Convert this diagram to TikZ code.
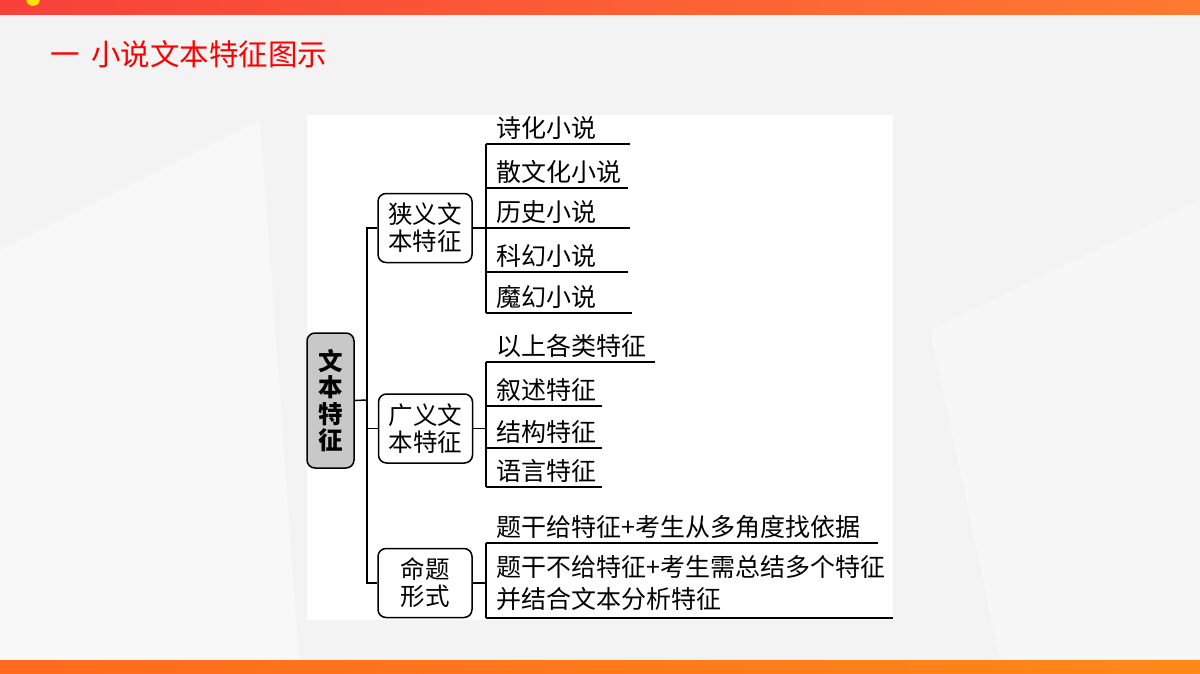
\documentclass[tikz,border=0pt]{standalone}
\usepackage{fontspec}
\setmainfont{Noto Sans CJK SC}
\usetikzlibrary{positioning}
\definecolor{slidebg}{HTML}{F3F3F3}
\definecolor{barred}{HTML}{F8403A}
\definecolor{barorange}{HTML}{FF7A30}
\definecolor{footorange}{HTML}{FF6A1E}
\definecolor{titlered}{HTML}{FF0000}
\definecolor{rootgray}{HTML}{C8C8C8}
\tikzset{
branch/.style={
  draw, rounded corners=8pt, line width=1.5pt, fill=white,
  minimum width=94pt, minimum height=69pt, inner sep=0pt,
  align=center, font=\fontsize{24.5}{27}\selectfont
},
rootbox/.style={branch, fill=rootgray, minimum width=47pt, minimum height=135pt,
  font=\bfseries\fontsize{24.5}{26.5}\selectfont},
leaf/.style={
  anchor=south west, inner xsep=10pt, inner ysep=4pt,
  text height=0.8em, text depth=0.2em, text width=#1,
  align=left, font=\fontsize{25}{32}\selectfont
},
link/.style={line width=1.5pt},
}

\begin{document}
\begin{tikzpicture}[x=1pt,y=-1pt]
  \useasboundingbox (0,0) rectangle (1200,673);
  % slide background and bars
  \fill[slidebg] (0,0) rectangle (1200,673);
  \fill[white,opacity=0.45] (0,250) -- (260,120) -- (300,673) -- (0,673) -- cycle;
  \fill[white,opacity=0.35] (1200,200) -- (930,330) -- (1000,660) -- (1200,660) -- cycle;
  \shade[left color=barred, right color=barorange] (0,0) rectangle (1200,14);
  \fill[yellow!85!orange] (33,-1) circle (7);
  \shade[left color=footorange, right color=footorange!80!yellow] (0,660) rectangle (1200,673);
  \node[anchor=west, inner sep=0pt, text=titlered, font=\fontsize{29.5}{30}\selectfont] (title) at (50,54) {一\hspace{0.4em}小说文本特征图示};
  % white panel
  \fill[white] (307,115) rectangle (893,620);

  % main nodes
  \node[rootbox] (root) at (330.5,400.5) {文\\本\\特\\征};
  \node[branch] (narrow) at (425,228) {狭义文\\本特征};
  \node[branch] (broad) at (425.5,428.5) {广义文\\本特征};
  \node[branch] (task) at (425,583) {命题\\形式};
  \coordinate (spine) at (367,400);

  % leaves, narrow sense
  \node[leaf=124pt] (poetic) at (486,144) {诗化小说};
  \node[leaf=122pt] (prose) at (486,188) {散文化小说};
  \node[leaf=124pt] (history) at (486,228) {历史小说};
  \node[leaf=122pt] (scifi) at (486,272) {科幻小说};
  \node[leaf=126pt] (fantasy) at (486,313) {魔幻小说};
  % leaves, broad sense
  \node[leaf=149pt] (above) at (486,362) {以上各类特征};
  \node[leaf=96pt] (narration) at (486,406) {叙述特征};
  \node[leaf=96pt] (structure) at (486,448) {结构特征};
  \node[leaf=96pt] (language) at (486,487) {语言特征};
  % leaves, question forms
  \node[leaf=372pt] (given) at (486,543) {题干给特征+考生从多角度找依据};
  \node[leaf=387pt, text depth=37pt] (ungiven) at (486,618) {题干不给特征+考生需总结多个特征\\并结合文本分析特征};

  % connectors
  \draw[link] (root.east) -- (spine);
  \draw[link] (narrow.west) -| (spine) |- (task.west);
  \draw[link] (broad.west) -- (broad.west -| spine);
  \draw[link] (narrow.east) -- (narrow.east -| poetic.south west);
  \draw[link] (broad.east) -- (broad.east -| above.south west);
  \draw[link] (task.east) -- (task.east -| given.south west);
  \draw[link] (poetic.south west) -- (fantasy.south west);
  \draw[link] (above.south west) -- (language.south west);
  \draw[link] (given.south west) -- (ungiven.south west);
  \foreach \n in {poetic,prose,history,scifi,fantasy,above,narration,structure,language,given,ungiven}
    \draw[link] (\n.south west) -- (\n.south east);
\end{tikzpicture}
\end{document}
